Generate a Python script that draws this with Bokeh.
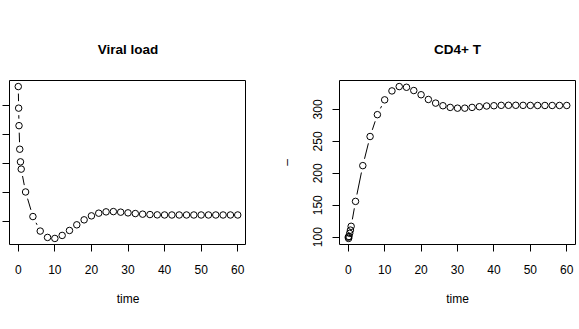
import numpy as np
from bokeh.plotting import figure
from bokeh.layouts import row
from bokeh.models import Range1d, FixedTicker
from bokeh.embed import file_html
from bokeh.resources import INLINE

# ---- data ----
time = [0, 0.1, 0.2, 0.4, 0.6, 0.8, 2, 4, 6, 8, 10, 12, 14, 16, 18, 20, 22, 24, 26, 28,
        30, 32, 34, 36, 38, 40, 42, 44, 46, 48, 50, 52, 54, 56, 58, 60]
viral_load = [5650, 4908, 4306, 3496, 3062, 2812, 2026, 1181, 682, 463, 429, 532, 703, 897,
              1068, 1205, 1297, 1342, 1352, 1332, 1308, 1284, 1263, 1250, 1239, 1236, 1235,
              1235, 1235, 1235, 1235, 1235, 1235, 1235, 1235, 1235]
cd4 = [100, 98, 101, 106, 111, 117, 156, 212, 257.6, 291.8, 315, 329, 335.8, 334.7, 329.6,
       323, 315.6, 309.9, 305.8, 303.2, 302, 302, 303.2, 304.3, 305.4, 305.8, 306.4, 306.5,
       306.5, 306.4, 306.3, 306.2, 306.2, 306.2, 306.2, 306.2]
x_ticks = [0, 10, 20, 30, 40, 50, 60]
viral_ticks = [1000, 2000, 3000, 4000, 5000]
cd4_ticks = [100, 150, 200, 250, 300]
titles = ["Viral load", "CD4+ T"]
x_label = "time"
FONT = "Liberation Sans"


def r_range(v):
    lo, hi = min(v), max(v)
    pad = 0.04 * (hi - lo)
    return lo - pad, hi + pad


def make_panel(x, y, title, yticks, fw, fh, left_border, right_border, show_ylabels, ylab):
    xr = r_range(x)
    yr = r_range(y)
    p = figure(frame_width=fw, frame_height=fh, output_backend="svg", toolbar_location=None,
               x_range=Range1d(*xr), y_range=Range1d(*yr),
               min_border_left=left_border, min_border_right=right_border,
               min_border_top=80, min_border_bottom=85, title=title)
    p.title.align = "center"
    p.title.text_font = FONT
    p.title.text_font_size = "13.5px"
    p.title.text_font_style = "bold"
    p.title.text_color = "black"
    p.title.standoff = 47
    p.grid.visible = False
    p.outline_line_color = "black"
    p.outline_line_width = 1
    p.outline_line_alpha = 1
    p.background_fill_color = "white"
    p.border_fill_color = "white"

    for ax in (p.xaxis[0], p.yaxis[0]):
        ax.axis_line_color = None
        ax.major_tick_in = 0
        ax.major_tick_out = 7
        ax.major_tick_line_color = "black"
        ax.minor_tick_line_color = None
        ax.major_label_text_font = FONT
        ax.major_label_text_font_size = "12px"
        ax.major_label_text_color = "black"
        ax.axis_label_text_font = FONT
        ax.axis_label_text_font_size = "12px"
        ax.axis_label_text_font_style = "normal"
        ax.axis_label_text_color = "black"

    p.xaxis.ticker = FixedTicker(ticks=x_ticks)
    p.xaxis.major_label_standoff = 13
    p.xaxis.axis_label = x_label
    p.xaxis.axis_label_standoff = 15

    p.yaxis.ticker = FixedTicker(ticks=yticks)
    if show_ylabels:
        p.yaxis.major_label_orientation = "vertical"
        p.yaxis.major_label_standoff = 10
        p.yaxis.axis_label = ylab
        p.yaxis.axis_label_standoff = 17
    else:
        # the reference cuts these labels off at the window edge
        p.yaxis.major_label_overrides = {t: "" for t in yticks}
        p.yaxis.major_label_standoff = 0

    # R type="b": line segments with gaps around each point
    gap = 7.0
    sx = fw / (xr[1] - xr[0])
    sy = fh / (yr[1] - yr[0])
    x0s, y0s, x1s, y1s = [], [], [], []
    for i in range(len(x) - 1):
        dxp = (x[i + 1] - x[i]) * sx
        dyp = (y[i + 1] - y[i]) * sy
        d = float(np.hypot(dxp, dyp))
        if d > 2 * gap + 0.5:
            f = gap / d
            x0s.append(x[i] + (x[i + 1] - x[i]) * f)
            y0s.append(y[i] + (y[i + 1] - y[i]) * f)
            x1s.append(x[i + 1] - (x[i + 1] - x[i]) * f)
            y1s.append(y[i + 1] - (y[i + 1] - y[i]) * f)
    p.segment(x0=x0s, y0=y0s, x1=x1s, y1=y1s, line_color="black", line_width=1)
    p.scatter(x, y, marker="circle", size=6.5, fill_color=None, line_color="black", line_width=1)
    return p


p1 = make_panel(time, viral_load, titles[0], viral_ticks, 237, 164, 9, 0, False, None)
p2 = make_panel(time, cd4, titles[1], cd4_ticks, 236, 164, 93, 4, True, "\u2013")

layout = row(p1, p2, spacing=0)
layout.margin = 0

open("out.html", "w").write(file_html(layout, INLINE))
